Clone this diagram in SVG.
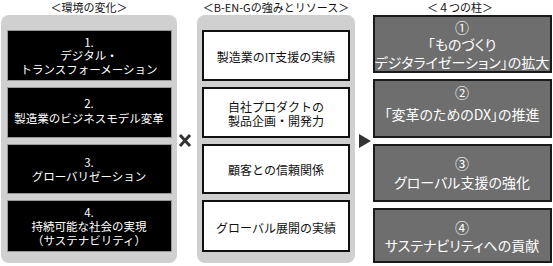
<svg xmlns="http://www.w3.org/2000/svg" width="553" height="266" viewBox="0 0 553 266">
<style>
text{font-family:"Noto Sans CJK JP","Noto Sans",sans-serif;text-anchor:middle;dominant-baseline:central}
.h{font-size:11px;fill:#111}
.panel{fill:#d0d0d0}
.blk{fill:#000;stroke:#9a9a9a;stroke-width:1}
.wht{fill:#fff;stroke:#111;stroke-width:2}
.gry{fill:#6e6e6e;stroke:#1a1a1a;stroke-width:2}
.lt{font-size:11.5px;fill:#fff}
.mt{font-size:12px;fill:#111}
.rt{font-size:14px;fill:#fff;font-feature-settings:"palt" 1}
</style>
<rect width="553" height="266" fill="#fff"/>
<g id="headings">
<text class="h" x="89" y="7">＜環境の変化＞</text>
<text class="h" x="276" y="7">＜B-EN-Gの強みとリソース＞</text>
<text class="h" x="460" y="7">＜４つの柱＞</text>
</g>
<g id="panel-left"><rect class="panel" x="1" y="15" width="176" height="248" rx="8"/></g>
<g id="panel-mid"><rect class="panel" x="197" y="15" width="158" height="248" rx="8"/></g>
<g id="env1"><rect class="blk" x="7.5" y="30.5" width="164" height="50"/>
<text class="lt" x="89" y="42">1.</text><text class="lt" x="89" y="55">デジタル・</text><text class="lt" x="89" y="69">トランスフォーメーション</text></g>
<g id="env2"><rect class="blk" x="7.5" y="87.5" width="164" height="50"/>
<text class="lt" x="89" y="103">2.</text><text class="lt" x="89" y="118">製造業のビジネスモデル変革</text></g>
<g id="env3"><rect class="blk" x="7.5" y="144.5" width="164" height="49"/>
<text class="lt" x="89" y="162">3.</text><text class="lt" x="89" y="176">グローバリゼーション</text></g>
<g id="env4"><rect class="blk" x="7.5" y="200.5" width="164" height="51"/>
<text class="lt" x="89" y="212">4.</text><text class="lt" x="89" y="226">持続可能な社会の実現</text><text class="lt" x="89" y="240">（サステナビリティ）</text></g>
<g id="res1"><rect class="wht" x="203" y="31" width="146" height="49"/>
<text class="mt" x="276" y="56">製造業のIT支援の実績</text></g>
<g id="res2"><rect class="wht" x="203" y="88" width="146" height="49"/>
<text class="mt" x="276" y="106">自社プロダクトの</text><text class="mt" x="276" y="120">製品企画・開発力</text></g>
<g id="res3"><rect class="wht" x="203" y="145" width="146" height="48"/>
<text class="mt" x="276" y="169">顧客との信頼関係</text></g>
<g id="res4"><rect class="wht" x="203" y="201" width="146" height="50"/>
<text class="mt" x="276" y="227">グローバル展開の実績</text></g>
<g id="pillar1"><rect class="gry" x="374" y="16" width="177" height="56"/>
<text class="rt" x="462" y="27">①</text><text class="rt" x="462" y="44">「ものづくり</text><text class="rt" x="462" y="62">デジタライゼーション」の拡大</text></g>
<g id="pillar2"><rect class="gry" x="374" y="80" width="177" height="57"/>
<text class="rt" x="462" y="92">②</text><text class="rt" x="462" y="114">「変革のためのDX」の推進</text></g>
<g id="pillar3"><rect class="gry" x="374" y="145" width="177" height="56"/>
<text class="rt" x="462" y="163">③</text><text class="rt" x="462" y="182">グローバル支援の強化</text></g>
<g id="pillar4"><rect class="gry" x="374" y="209" width="177" height="53"/>
<text class="rt" x="462" y="227">④</text><text class="rt" x="462" y="245">サステナビリティへの貢献</text></g>
<g id="connectors">
<path d="M180,135 L190,146 M190,135 L180,146" stroke="#333" stroke-width="3" fill="none"/>
<polygon points="359,134 371,141 359,148" fill="#333"/>
</g>
</svg>
